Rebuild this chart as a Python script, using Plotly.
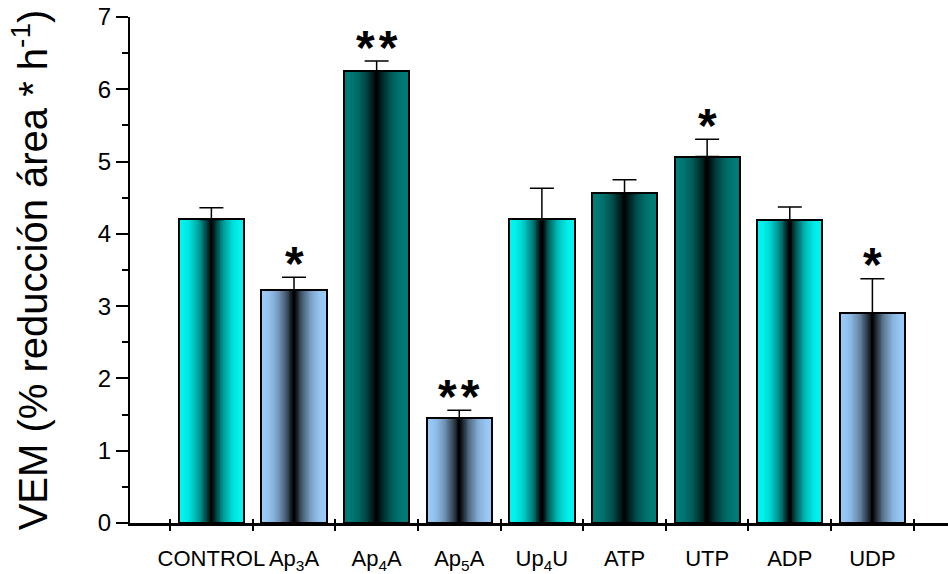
import plotly.graph_objects as go

# Data
categories = ["CONTROL", "Ap<sub>3</sub>A", "Ap<sub>4</sub>A", "Ap<sub>5</sub>A",
              "Up<sub>4</sub>U", "ATP", "UTP", "ADP", "UDP"]
vem = [4.20, 3.22, 6.25, 1.45, 4.21, 4.56, 5.07, 4.19, 2.90]
sem = [0.16, 0.18, 0.14, 0.11, 0.42, 0.19, 0.24, 0.18, 0.48]
significance = ["", "*", "**", "**", "", "", "*", "", "*"]
bar_group = ["cyan", "blue", "teal", "blue", "cyan", "teal", "teal", "cyan", "blue"]

# Edge colours of the shaded (cylinder-like) bars
edge_rgb = {"cyan": (0, 245, 240), "blue": (153, 202, 248), "teal": (0, 124, 120)}

FONT = "Arial, Liberation Sans, sans-serif"
BAR_W = 0.79
N_LAYERS = 36
xs = list(range(len(categories)))

fig = go.Figure()

# Horizontal gradient: stacked bars of decreasing width, darker toward the centre
for k in range(N_LAYERS):
    t = k / (N_LAYERS - 1)
    dark = t ** 2.1
    cols = []
    for g in bar_group:
        r, gg, b = edge_rgb[g]
        f = 1 - dark
        cols.append(f"rgb({r*f:.0f},{gg*f:.0f},{b*f:.0f})")
    fig.add_trace(go.Bar(
        x=xs, y=vem, width=BAR_W * (1 - k / N_LAYERS),
        marker=dict(color=cols, line=dict(width=0)),
        hoverinfo="skip", showlegend=False,
    ))

# Outline with upward error bars
fig.add_trace(go.Bar(
    x=xs, y=vem, width=BAR_W,
    marker=dict(color="rgba(0,0,0,0)", line=dict(color="black", width=2)),
    error_y=dict(type="data", symmetric=False, array=sem,
                 arrayminus=[0] * len(sem), color="black",
                 thickness=1.5, width=12),
    showlegend=False,
))

# Significance markers above the error bars
for x, v, e, s in zip(xs, vem, sem, significance):
    if s:
        fig.add_annotation(
            x=x, y=v + e, text="<b>" + s.replace("**", "*\u200a*") + "</b>",
            showarrow=False, yanchor="middle", yshift=14,
            font=dict(family=FONT, size=48, color="black"),
        )

x_range = [-0.985, 8.915]
boundaries = [i - 0.5 for i in range(len(categories) + 1)]

fig.update_layout(
    width=948, height=574,
    margin=dict(l=130, r=0, t=17, b=48),
    paper_bgcolor="white", plot_bgcolor="white",
    barmode="overlay", bargap=0,
    font=dict(family=FONT, color="black"),
    xaxis=dict(
        range=x_range, tickvals=xs, ticktext=categories,
        ticks="", showgrid=False, zeroline=False,
        showline=True, linecolor="black", linewidth=2.5,
        tickfont=dict(size=22, family=FONT), ticklabelstandoff=14,
    ),
    xaxis2=dict(
        overlaying="x", anchor="y", range=x_range, tickvals=boundaries,
        ticks="outside", ticklen=7, tickwidth=2, tickcolor="black",
        showticklabels=False, showgrid=False, zeroline=False, showline=False,
    ),
    xaxis3=dict(
        overlaying="x", anchor="y", range=x_range, tickvals=boundaries,
        ticks="inside", ticklen=4, tickwidth=2, tickcolor="black",
        showticklabels=False, showgrid=False, zeroline=False, showline=False,
    ),
    yaxis=dict(
        range=[0, 7], tickvals=list(range(8)),
        ticks="outside", ticklen=12, tickwidth=2, tickcolor="black",
        minor=dict(dtick=0.5, ticks="outside", ticklen=6, tickwidth=2,
                   tickcolor="black"),
        showgrid=False, zeroline=False,
        showline=True, linecolor="black", linewidth=2,
        tickfont=dict(size=24, family=FONT),
        title=dict(text="VEM (% reducción área * h<sup>-1</sup>)",
                   font=dict(size=40, family=FONT), standoff=38),
    ),
)

# Empty traces so the boundary-tick axes are rendered
fig.add_trace(go.Scatter(x=[None], y=[None], xaxis="x2", showlegend=False, hoverinfo="skip"))
fig.add_trace(go.Scatter(x=[None], y=[None], xaxis="x3", showlegend=False, hoverinfo="skip"))

fig.write_html("out.html")
